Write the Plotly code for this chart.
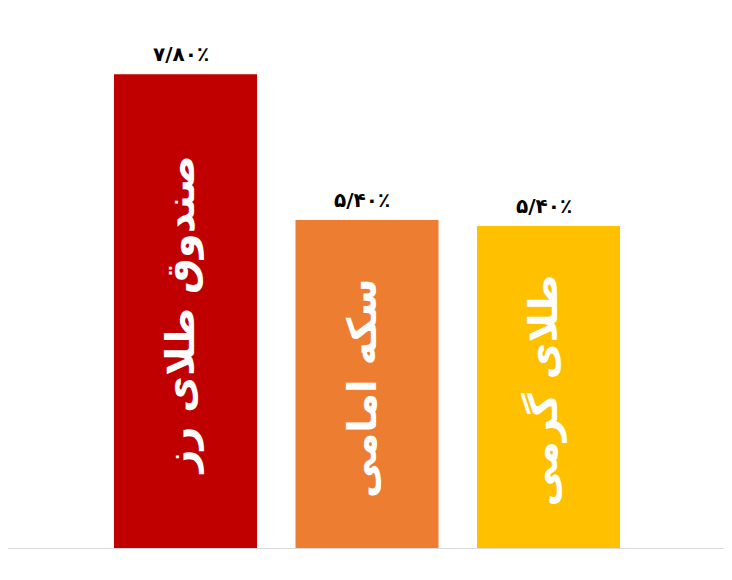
import plotly.graph_objects as go

categories = ["صندوق طلای رز", "سکه امامی", "طلای گرمی"]
values = [7.8, 5.4, 5.3]
value_labels = ["۷/۸۰٪", "۵/۴۰٪", "۵/۴۰٪"]
colors = ["#C00000", "#ED7D31", "#FFC000"]

x_idx = list(range(len(categories)))

fig = go.Figure()
fig.add_trace(go.Bar(
    x=x_idx,
    y=values,
    width=0.788,
    marker=dict(color=colors, line=dict(width=0)),
    hoverinfo="skip",
))

annotations = []
for i, (v, lab, name) in enumerate(zip(values, value_labels, categories)):
    annotations.append(dict(
        x=i, y=v, xref="x", yref="y", text="<b>" + lab + "</b>",
        showarrow=False, yanchor="bottom", yshift=6, xshift=-5,
        font=dict(family="DejaVu Sans", size=20, color="#000000"),
    ))
    annotations.append(dict(
        x=i, y=v / 2, xref="x", yref="y", text="<b>" + name + "</b>",
        showarrow=False, textangle=-90, xshift=-5, yshift=-4,
        font=dict(family="DejaVu Sans", size=40, color="#FFFFFF"),
    ))

fig.update_layout(
    width=732, height=580,
    margin=dict(l=0, r=0, t=0, b=39.5),
    plot_bgcolor="#FFFFFF",
    paper_bgcolor="#FFFFFF",
    showlegend=False,
    annotations=annotations,
    xaxis=dict(range=[-0.978, 3.055], showgrid=False, zeroline=False,
               showticklabels=False, ticks="", showline=True,
               linecolor="#D9D9D9", linewidth=1, fixedrange=True),
    yaxis=dict(range=[0, 8.89], showgrid=False, zeroline=False,
               showticklabels=False, ticks="", showline=False, fixedrange=True),
)

fig.write_html("out.html", config={"displayModeBar": False})
